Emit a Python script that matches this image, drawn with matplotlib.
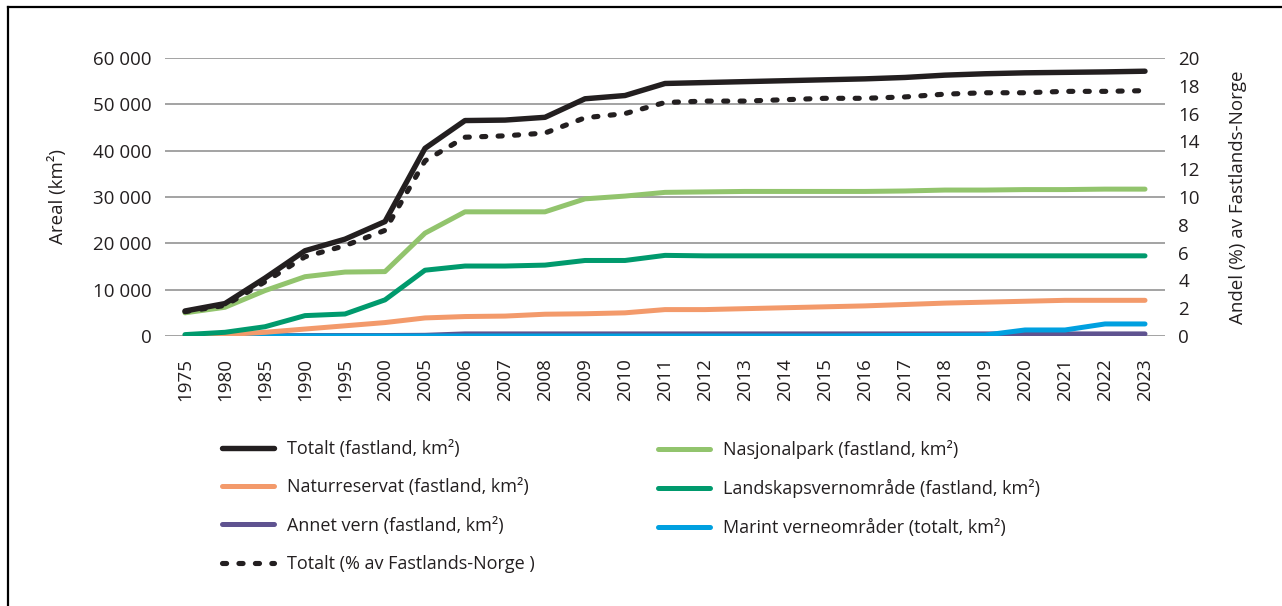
import matplotlib
matplotlib.use("Agg")
import matplotlib.pyplot as plt
from matplotlib.lines import Line2D

plt.rcParams['font.family'] = ['Open Sans', 'DejaVu Sans']

years = ['1975', '1980', '1985', '1990', '1995', '2000', '2005', '2006', '2007', '2008',
         '2009', '2010', '2011', '2012', '2013', '2014', '2015', '2016', '2017', '2018',
         '2019', '2020', '2021', '2022', '2023']

totalt = [5400, 7000, 12500, 18400, 20900, 24700, 40500, 46500, 46600, 47200,
          51200, 51900, 54500, 54700, 54900, 55100, 55300, 55500, 55800, 56300,
          56600, 56800, 56900, 57000, 57150]
nasjonalpark = [5000, 6200, 9800, 12800, 13800, 13900, 22200, 26800, 26800, 26800,
                29600, 30200, 31000, 31100, 31200, 31200, 31200, 31200, 31300, 31500,
                31500, 31600, 31600, 31700, 31700]
naturreservat = [100, 300, 800, 1500, 2200, 2900, 3900, 4200, 4300, 4700,
                 4800, 5000, 5700, 5700, 5900, 6100, 6300, 6500, 6800, 7100,
                 7300, 7500, 7700, 7700, 7700]
landskap = [300, 800, 2000, 4400, 4750, 7800, 14200, 15100, 15100, 15300,
            16300, 16300, 17400, 17300, 17300, 17300, 17300, 17300, 17300, 17300,
            17300, 17300, 17300, 17300, 17300]
annet = [50, 50, 50, 100, 100, 100, 150, 450, 450, 450,
         450, 450, 450, 450, 450, 450, 450, 450, 450, 450,
         450, 450, 450, 450, 450]
marint = [0, 0, 0, 0, 0, 0, 0, 0, 0, 0,
          0, 0, 0, 0, 0, 0, 0, 50, 100, 150,
          200, 1300, 1300, 2600, 2600]
andel = [1.75, 2.2, 3.9, 5.7, 6.5, 7.6, 12.6, 14.3, 14.4, 14.6,
         15.7, 16.0, 16.8, 16.9, 16.9, 17.0, 17.1, 17.1, 17.2, 17.4,
         17.5, 17.5, 17.6, 17.6, 17.65]

labels = {
    'totalt': 'Totalt (fastland, km²)',
    'nasjonal': 'Nasjonalpark (fastland, km²)',
    'natur': 'Naturreservat (fastland, km²)',
    'landskap': 'Landskapsvernområde (fastland, km²)',
    'annet': 'Annet vern (fastland, km²)',
    'marint': 'Marint verneområder (totalt, km²)',
    'andel': 'Totalt (% av Fastlands-Norge )',
}

c_black = '#231f20'
c_lgreen = '#92c46d'
c_dgreen = '#009a6d'
c_orange = '#f39a6b'
c_purple = '#5f5390'
c_blue = '#00a0e0'
c_grid = '#8a8a8a'
txt = '#231f20'

W, H = 1282, 606
fig = plt.figure(figsize=(W / 100, H / 100), dpi=100)
ax = fig.add_axes([165 / W, 1 - 336 / H, 1000 / W, 278 / H])
ax2 = ax.twinx()

x = list(range(len(years)))
lw = 3.6
kw = dict(solid_capstyle='round', solid_joinstyle='round')
l_annet, = ax.plot(x, annet, color=c_purple, lw=lw, **kw)
l_marint, = ax.plot(x, marint, color=c_blue, lw=lw, **kw)
l_natur, = ax.plot(x, naturreservat, color=c_orange, lw=lw, **kw)
l_land, = ax.plot(x, landskap, color=c_dgreen, lw=lw, **kw)
l_nasj, = ax.plot(x, nasjonalpark, color=c_lgreen, lw=lw, **kw)
l_tot, = ax.plot(x, totalt, color=c_black, lw=3.9, **kw)
l_and, = ax2.plot(x, andel, color=c_black, lw=3.7, linestyle=(0, (0.8, 2.4)),
                  dash_capstyle='round', dash_joinstyle='round')

ax.set_xlim(-0.5, len(years) - 0.5)
ax.set_ylim(0, 60000)
ax2.set_ylim(0, 20)
ax.set_yticks(range(0, 60001, 10000))
ax.set_yticklabels([f"{v:,}".replace(',', ' ') for v in range(0, 60001, 10000)])
ax2.set_yticks(range(0, 21, 2))
ax.set_xticks(x)
ax.set_xticklabels(years, rotation=90)

for a in (ax, ax2):
    for s in a.spines.values():
        s.set_visible(False)
ax.grid(axis='y', color=c_grid, lw=1.1)
ax.set_axisbelow(True)
fs = 13.5
ax.tick_params(axis='y', length=0, pad=9.5, labelsize=fs, labelcolor=txt)
ax2.tick_params(axis='y', length=0, pad=9.5, labelsize=fs, labelcolor=txt)
ax.tick_params(axis='x', length=0, pad=16, labelsize=fs, labelcolor=txt)

ax.set_ylabel('Areal (km²)', fontsize=fs, color=txt, labelpad=19)
ax2.set_ylabel('Andel (%) av Fastlands-Norge', fontsize=fs, color=txt, labelpad=21)

leg_kw = dict(frameon=False, fontsize=13, handlelength=2.9, handletextpad=0.72,
              labelspacing=1.13, borderpad=0, borderaxespad=0, loc='upper left',
              labelcolor=txt)
leg1 = fig.legend([l_tot, l_natur, l_annet, l_and],
                  [labels['totalt'], labels['natur'], labels['annet'], labels['andel']],
                  bbox_to_anchor=(222 / W, 1 - 440 / H), **leg_kw)
leg2 = fig.legend([l_nasj, l_land, l_marint],
                  [labels['nasjonal'], labels['landskap'], labels['marint']],
                  bbox_to_anchor=(658 / W, 1 - 440 / H), **leg_kw)

# outer frame (top and left edges)
fig.add_artist(Line2D([8 / W, 1], [1 - 7 / H, 1 - 7 / H], transform=fig.transFigure,
                      color='black', lw=1.6))
fig.add_artist(Line2D([8 / W, 8 / W], [0, 1 - 7 / H], transform=fig.transFigure,
                      color='black', lw=1.6))

fig.savefig('out.png', dpi=100)
